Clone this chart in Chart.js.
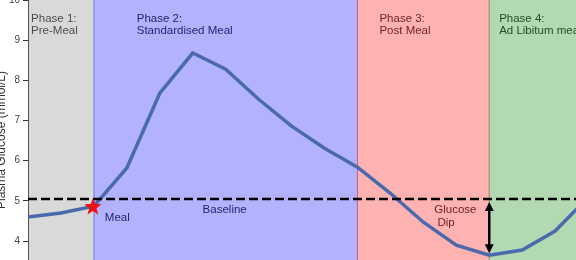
<!DOCTYPE html>
<html>
<head>
<meta charset="utf-8">
<script src="https://cdn.jsdelivr.net/npm/chart.js@4"></script>
<style>
  html, body { margin: 0; padding: 0; background: #fff; }
  #wrap { width: 576px; height: 260px; }
</style>
</head>
<body>
<div id="wrap"><canvas id="glucoseChart"></canvas></div>
<script>
// time in minutes relative to the meal, glucose in mmol/L
const times = [-30, -15, 0, 15, 30, 45, 60, 75, 90, 105, 120, 135, 150, 165, 180, 195, 210, 225];
const glucose = [4.60, 4.70, 4.87, 5.82, 7.68, 8.68, 8.28, 7.53, 6.86, 6.31, 5.84, 5.19, 4.47, 3.90, 3.65, 3.78, 4.25, 5.09];
const baseline = 5.05;
const yTicks = [4, 5, 6, 7, 8, 9, 10];

const phaseStarts = [-30, 0, 120, 180];
const phaseEnds = [0, 120, 180, 260];
const phaseColors = ['rgba(128,128,128,0.3)', 'rgba(0,0,255,0.3)', 'rgba(255,0,0,0.3)', 'rgba(0,128,0,0.3)'];
const phaseLabels = [['Phase 1:', 'Pre-Meal'], ['Phase 2:', 'Standardised Meal'], ['Phase 3:', 'Post Meal'], ['Phase 4:', 'Ad Libitum meal']];
const phaseLabelX = [-28.6, 19.5, 130, 184.5];
const phaseLabelY = [9.45, 9.15];

const mealTime = 0;
const dipTime = 180;
const notes = [
    { text: 'Meal', x: 5, y: 4.58 },
    { text: 'Baseline', x: 49.5, y: 4.78 },
    { text: 'Glucose', x: 155, y: 4.78 },
    { text: 'Dip', x: 156.4, y: 4.45 },
];

const FONT = '"Liberation Sans", Arial, sans-serif';

function drawStar(ctx, cx, cy, R, r) {
    ctx.beginPath();
    for (let i = 0; i < 10; i++) {
        const a = -Math.PI / 2 + i * Math.PI / 5;
        const rad = i % 2 ? r : R;
        const px = cx + rad * Math.cos(a), py = cy + rad * Math.sin(a);
        if (i === 0) ctx.moveTo(px, py); else ctx.lineTo(px, py);
    }
    ctx.closePath();
    ctx.fill();
}

function arrowHead(ctx, x, y, dir) {
    ctx.beginPath();
    ctx.moveTo(x, y);
    ctx.lineTo(x - 4.5, y + dir * 9);
    ctx.lineTo(x + 4.5, y + dir * 9);
    ctx.closePath();
    ctx.fill();
}

const overlay = {
    id: 'overlay',
    beforeDatasetsDraw(chart) {
        const { ctx, chartArea, scales: { x, y } } = chart;
        ctx.save();
        ctx.beginPath();
        ctx.rect(chartArea.left, chartArea.top, chartArea.width, chartArea.height);
        ctx.clip();

        // text sits under the shaded spans
        ctx.fillStyle = '#333';
        ctx.font = '11.5px ' + FONT;
        ctx.textAlign = 'left';
        ctx.textBaseline = 'alphabetic';
        phaseLabels.forEach((lines, i) => {
            lines.forEach((txt, j) => {
                ctx.fillText(txt, x.getPixelForValue(phaseLabelX[i]), y.getPixelForValue(phaseLabelY[j]));
            });
        });
        ctx.textBaseline = 'middle';
        notes.forEach(n => ctx.fillText(n.text, x.getPixelForValue(n.x), y.getPixelForValue(n.y)));

        // phase spans
        phaseStarts.forEach((s, i) => {
            const x0 = x.getPixelForValue(s), x1 = x.getPixelForValue(phaseEnds[i]);
            ctx.fillStyle = phaseColors[i];
            ctx.strokeStyle = phaseColors[i];
            ctx.lineWidth = 1;
            ctx.fillRect(x0, chartArea.top - 2, x1 - x0, chartArea.height + 4);
            ctx.strokeRect(x0, chartArea.top - 2, x1 - x0, chartArea.height + 4);
        });
        ctx.restore();
    },
    afterDatasetsDraw(chart) {
        const { ctx, chartArea, scales: { x, y } } = chart;
        ctx.save();
        ctx.beginPath();
        ctx.rect(chartArea.left, chartArea.top, chartArea.width, chartArea.height);
        ctx.clip();

        // dip arrow
        const ax = x.getPixelForValue(dipTime);
        const yTop = y.getPixelForValue(baseline) + 3;
        const yBot = y.getPixelForValue(glucose[times.indexOf(dipTime)]) - 2;
        ctx.strokeStyle = '#000';
        ctx.fillStyle = '#000';
        ctx.lineWidth = 2.5;
        ctx.beginPath();
        ctx.moveTo(ax, yTop + 6);
        ctx.lineTo(ax, yBot - 6);
        ctx.stroke();
        arrowHead(ctx, ax, yTop, 1);
        arrowHead(ctx, ax, yBot, -1);

        // meal marker
        ctx.fillStyle = '#ee1111';
        drawStar(ctx, x.getPixelForValue(mealTime) - 1, y.getPixelForValue(glucose[times.indexOf(mealTime)]) + 1, 9, 3.8);
        ctx.restore();

        // y axis title, partly cut by the left edge
        ctx.save();
        ctx.translate(5, 140);
        ctx.rotate(-Math.PI / 2);
        ctx.fillStyle = '#333';
        ctx.font = '12px ' + FONT;
        ctx.textAlign = 'center';
        ctx.textBaseline = 'alphabetic';
        ctx.fillText('Plasma Glucose (mmol/L)', 0, 0);
        ctx.restore();
    }
};

new Chart(document.getElementById('glucoseChart'), {
    type: 'line',
    data: {
        datasets: [
            {
                label: 'Baseline',
                data: [{ x: times[0], y: baseline }, { x: times[times.length - 1], y: baseline }],
                borderColor: '#000',
                borderWidth: 2.5,
                borderDash: [9, 4],
                pointRadius: 0,
            },
            {
                label: 'Plasma Glucose',
                data: times.map((t, i) => ({ x: t, y: glucose[i] })),
                borderColor: '#4a6aae',
                borderWidth: 3.5,
                pointRadius: 0,
                tension: 0,
            },
        ],
    },
    options: {
        responsive: true,
        maintainAspectRatio: false,
        animation: false,
        devicePixelRatio: 1,
        layout: { padding: 0 },
        plugins: {
            legend: { display: false },
            tooltip: { enabled: false },
        },
        scales: {
            x: { type: 'linear', min: -30, max: 219.5, display: false },
            y: {
                min: 3.53,
                max: 10,
                afterBuildTicks: (s) => { s.ticks = yTicks.map(v => ({ value: v })); },
                afterFit: (s) => { s.width = 28; s.paddingTop = 0; s.paddingBottom = 0; },
                ticks: {
                    color: '#444',
                    padding: 3,
                    font: { size: 10, family: FONT },
                },
                grid: { drawOnChartArea: false, tickLength: 5, color: '#333' },
                border: { color: '#333', width: 1 },
            },
        },
    },
    plugins: [overlay],
});
</script>
</body>
</html>
